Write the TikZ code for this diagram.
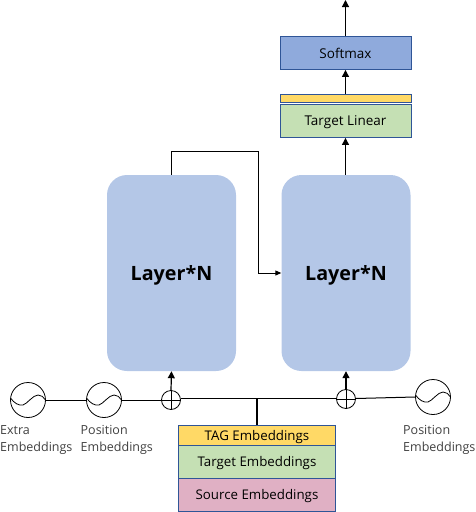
\documentclass[tikz,border=0pt]{standalone}
\usepackage{fontspec}
\setmainfont{Open Sans}
\usetikzlibrary{arrows.meta}
\definecolor{layerblue}{HTML}{B4C7E7}
\definecolor{softblue}{HTML}{8FAADC}
\definecolor{boxedge}{HTML}{2F5597}
\definecolor{tagyellow}{HTML}{FFD966}
\definecolor{targreen}{HTML}{C5E0B4}
\definecolor{srcpink}{HTML}{E0B0C4}
\tikzset{
  x=1pt,y=-1pt,
  layerbox/.style={draw=none,fill=layerblue,rounded corners=20pt,minimum width=129pt,minimum height=196pt,inner sep=0pt,text depth=0pt,font=\fontsize{19.7}{22}\selectfont\bfseries},
  flatbox/.style={draw=boxedge,line width=0.9pt,minimum width=131pt,inner sep=0pt,text depth=0pt,font=\fontsize{13.5}{15}\selectfont},
  stackbox/.style={draw=boxedge,line width=0.9pt,minimum width=156.5pt,inner sep=0pt,text depth=0pt,font=\fontsize{13.3}{15}\selectfont},
  wave/.style={draw,circle,line width=0.8pt,minimum size=35pt,inner sep=0pt},
  adder/.style={draw,circle,line width=0.8pt,minimum size=19pt,inner sep=0pt},
  conn/.style={line width=1pt},
  thick conn/.style={line width=1.3pt},
  arrow conn/.style={line width=1.2pt,-{Triangle[length=7pt,width=7pt]}},
  caption/.style={align=left,anchor=north west,inner sep=0pt,font=\fontsize{12.5}{16.5}\selectfont,text=black!75}
}
\newcommand{\wavecurve}[1]{%
  \draw[line width=0.8pt,shift={(#1.center)}] (-17.5,-2) .. controls (-14,3) and (-9,6) .. (-5,5) .. controls (-1,4) and (5,-5) .. (10,-5) .. controls (13,-5) and (16,-3) .. (17.5,0);}
\begin{document}
\begin{tikzpicture}
\useasboundingbox (0,0) rectangle (476,512);
\node[layerbox] (layerL) at (171.5,273) {Layer*N};
\node[layerbox] (layerR) at (346,273) {Layer*N};
\node[flatbox,fill=softblue,minimum height=33pt] (softmax) at (345.5,53) {Softmax};
\node[flatbox,fill=tagyellow,minimum height=8pt] (tagbar) at (345.5,98.5) {};
\node[flatbox,fill=targreen,minimum height=33pt] (tlinear) at (345.5,121) {Target Linear};
\node[stackbox,fill=tagyellow,minimum height=19.5pt] (tagemb) at (257,435.5) {TAG Embeddings};
\node[stackbox,fill=targreen,minimum height=33pt] (tgtemb) at (257,461.5) {Target Embeddings};
\node[stackbox,fill=srcpink,minimum height=33pt] (srcemb) at (257,494.5) {Source Embeddings};
\node[wave] (extra) at (28,400) {};
\node[wave] (posL) at (104,400) {};
\node[wave] (posR) at (433,397) {};
\node[adder] (addL) at (171,400) {};
\node[adder] (addR) at (346,399) {};
\wavecurve{extra}
\wavecurve{posL}
\wavecurve{posR}
\draw[line width=0.8pt] (addL.north)--(addL.south) (addL.west)--(addL.east);
\draw[line width=0.8pt] (addR.north)--(addR.south) (addR.west)--(addR.east);
\node[caption] (capE) at (0,425.5) {Extra\\Embeddings};
\node[caption] (capP) at (80.5,425.5) {Position\\Embeddings};
\node[caption] (capR) at (403,425.5) {Position\\Embeddings};
\coordinate (junction) at (257,398.5);
\coordinate (top) at (345.5,0);
\draw[conn] (extra.east)--(posL.west);
\draw[conn] (posL.east)--(addL.west);
\draw[conn] (addL.east |- junction)--(addR.west |- junction);
\draw[conn] (addR.east |- junction)--(posR.west);
\draw[thick conn] (junction)--(tagemb.north -| junction);
\draw[arrow conn] (addL.north)--(layerL.south);
\draw[arrow conn] (addR.north)--(layerR.south);
\draw[arrow conn] (layerR.north -| tlinear.south)--(tlinear.south);
\draw[arrow conn] (tagbar.north)--(softmax.south);
\draw[arrow conn] (softmax.north)--(top);
\draw[conn,-{Triangle[length=6pt,width=5pt]}] (layerL.north) |- (258,151) |- (layerR.west);
\end{tikzpicture}
\end{document}
